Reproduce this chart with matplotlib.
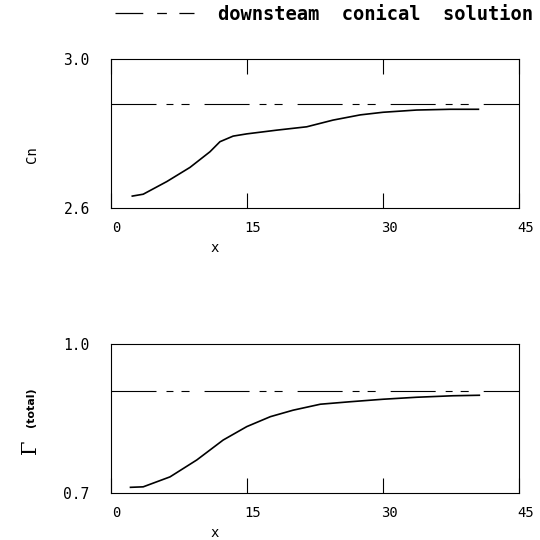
import matplotlib
matplotlib.use("Agg")
import matplotlib.pyplot as plt
from matplotlib.lines import Line2D
from matplotlib.transforms import ScaledTranslation

# ---- data ----
cn_x = [2.4, 3.6, 6.2, 8.75, 10.95, 12.05, 13.5, 15.0, 18.3, 21.6, 24.5, 27.5, 30.0, 33.7, 37.4, 40.5]
cn_y = [2.632, 2.637, 2.671, 2.709, 2.751, 2.778, 2.793, 2.799, 2.809, 2.818, 2.836, 2.850, 2.857, 2.863, 2.865, 2.865]
cn_conical = 2.878

g_x = [2.2, 3.6, 6.55, 9.5, 12.4, 15.0, 17.6, 20.1, 23.1, 26.4, 30.0, 33.7, 37.7, 40.6]
g_y = [0.712, 0.713, 0.733, 0.767, 0.807, 0.834, 0.854, 0.867, 0.879, 0.884, 0.889, 0.893, 0.896, 0.897]
g_conical = 0.905

x_ticks = [0, 15, 30, 45]
x_tick_labels = ["0", "15", "30", "45"]
cn_ticks = [2.6, 3.0]
cn_tick_labels = ["2.6", "3.0"]
g_ticks = [0.7, 1.0]
g_tick_labels = ["0.7", "1.0"]
legend_label = "downsteam  conical  solution"

plt.rcParams['lines.scale_dashes'] = False
mono = 'DejaVu Sans Mono'

fig = plt.figure(figsize=(5.4, 5.4), dpi=100)
W = 540.0
left = 110.5 / W
width = (519.3 - 110.5) / W
ax1 = fig.add_axes([left, (W - 208) / W, width, 149 / W])
ax2 = fig.add_axes([left, (W - 493.3) / W, width, 149.3 / W])

dash_pat = (32.4, 7.2, 5.0, 5.8, 5.8, 10.8)

def style(ax, yt, ytl, ylim, top_ticks):
    ax.set_xlim(0, 45)
    ax.set_ylim(*ylim)
    ax.set_xticks(x_ticks)
    ax.set_xticklabels(x_tick_labels, fontfamily=mono, fontsize=10)
    ax.set_yticks(yt)
    ax.set_yticklabels(ytl, fontfamily=mono, fontsize=10.5)
    ax.tick_params(axis='x', direction='in', length=11, width=0.8, pad=9,
                   top=top_ticks, bottom=True)
    ax.tick_params(axis='y', length=0, pad=15)
    for s in ax.spines.values():
        s.set_linewidth(0.8)
    off = ScaledTranslation(6 / 100.0, 0, fig.dpi_scale_trans)
    for lab in ax.get_xticklabels():
        lab.set_transform(lab.get_transform() + off)
    ax.set_xlabel("x", fontfamily=mono, fontsize=10)
    ax.xaxis.set_label_coords(11.5 / 45, -0.22)

# top panel
ax1.plot(cn_x, cn_y, color='black', lw=1.2)
ax1.plot([0, 45], [cn_conical, cn_conical], color='black', lw=0.8, dashes=dash_pat)
style(ax1, cn_ticks, cn_tick_labels, (2.6, 3.0), True)

# bottom panel
ax2.plot(g_x, g_y, color='black', lw=1.2)
ax2.plot([0, 45], [g_conical, g_conical], color='black', lw=0.8, dashes=dash_pat)
style(ax2, g_ticks, g_tick_labels, (0.7, 1.0), False)

# y labels
fig.text(32 / W, 1 - 155 / W, "Cn", rotation=90, fontfamily=mono, fontsize=10,
         ha='center', va='center')
fig.text(30 / W, 1 - 447 / W, "\u0393", rotation=90, fontfamily='DejaVu Serif',
         fontsize=15, ha='center', va='center')
fig.text(31 / W, 1 - 407 / W, "(total)", rotation=90, fontfamily='DejaVu Sans',
         fontsize=8, fontweight='bold', ha='center', va='center')

# legend
handle = Line2D([], [], color='black', lw=0.9, dashes=(20, 10, 7, 9, 11, 50))
fig.legend([handle], [legend_label], loc='center left',
           bbox_to_anchor=(115 / W, 1 - 14 / W), frameon=False,
           borderpad=0, borderaxespad=0, handlelength=4.2, handletextpad=1.3,
           prop={'family': mono, 'weight': 'bold', 'size': 13.5})

fig.savefig("out.png", dpi=100, facecolor='white')
